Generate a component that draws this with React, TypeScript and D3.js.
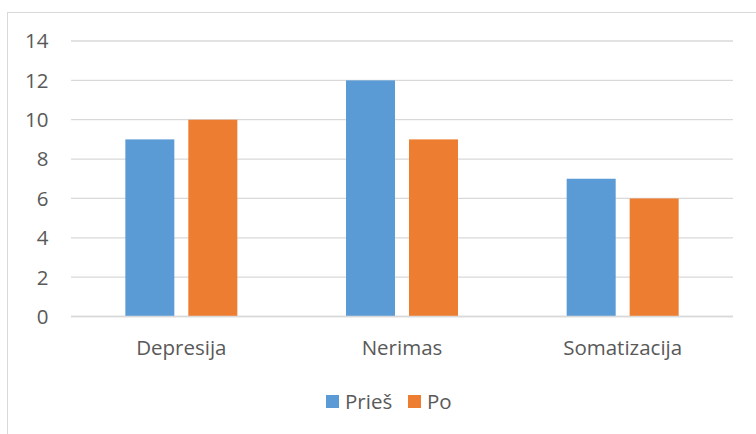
import React from "react";
import * as d3 from "d3";

const categories = ["Depresija", "Nerimas", "Somatizacija"];
const seriesNames = ["Prieš", "Po"];
const priesValues = [9, 12, 7];
const poValues = [10, 9, 6];
const yTicks = [0, 2, 4, 6, 8, 10, 12, 14];

const colors = ["#5B9BD5", "#ED7D31"];
const font = "'Open Sans', 'Liberation Sans', sans-serif";
const textColor = "#595959";
const gridColor = "#D9D9D9";
const fontSize = 20.5;

export default function App() {
  const width = 756;
  const height = 434;
  const plotLeft = 71;
  const plotRight = 733;

  const y = d3.scaleLinear().domain([0, 14]).range([316.5, 41]);
  const x0 = d3.scaleBand<string>().domain(categories).range([plotLeft, plotRight]).padding(0);
  const groupWidth = 112;
  const x1 = d3.scaleBand<string>().domain(seriesNames).range([0, groupWidth]).paddingInner(0.222).paddingOuter(0);

  const seriesValues = [priesValues, poValues];

  return (
    <svg
      width={width}
      height={height}
      style={{ position: "absolute", left: 0, top: 0, background: "#fff" }}
      fontFamily={font}
    >
      <rect x={7.5} y={12.5} width={width + 10} height={height + 10} fill="#fff" stroke={gridColor} strokeWidth={1} />

      {yTicks.map((t) => (
        <g key={t}>
          <line x1={plotLeft} x2={plotRight} y1={y(t)} y2={y(t)} stroke={gridColor} strokeWidth={1.3} />
          <text x={48.5} y={y(t)} dy="0.36em" textAnchor="end" fontSize={fontSize} fill={textColor}>
            {t}
          </text>
        </g>
      ))}

      {categories.map((c, ci) => {
        const cx = (x0(c) as number) + x0.bandwidth() / 2;
        const gx = cx - groupWidth / 2;
        return (
          <g key={c}>
            {seriesNames.map((s, si) => {
              const v = seriesValues[si][ci];
              return (
                <rect
                  key={s}
                  x={gx + (x1(s) as number)}
                  y={y(v)}
                  width={x1.bandwidth()}
                  height={y(0) - y(v)}
                  fill={colors[si]}
                />
              );
            })}
            <text x={cx} y={355} textAnchor="middle" fontSize={fontSize} fill={textColor}>
              {c}
            </text>
          </g>
        );
      })}

      <line x1={plotLeft} x2={plotRight} y1={y(0)} y2={y(0)} stroke={gridColor} strokeWidth={1.3} />

      <g>
        <rect x={326} y={395} width={13} height={13} fill={colors[0]} />
        <text x={345} y={408.5} fontSize={fontSize} fill={textColor}>{seriesNames[0]}</text>
        <rect x={408} y={395} width={13} height={13} fill={colors[1]} />
        <text x={427} y={408.5} fontSize={fontSize} fill={textColor}>{seriesNames[1]}</text>
      </g>
    </svg>
  );
}
